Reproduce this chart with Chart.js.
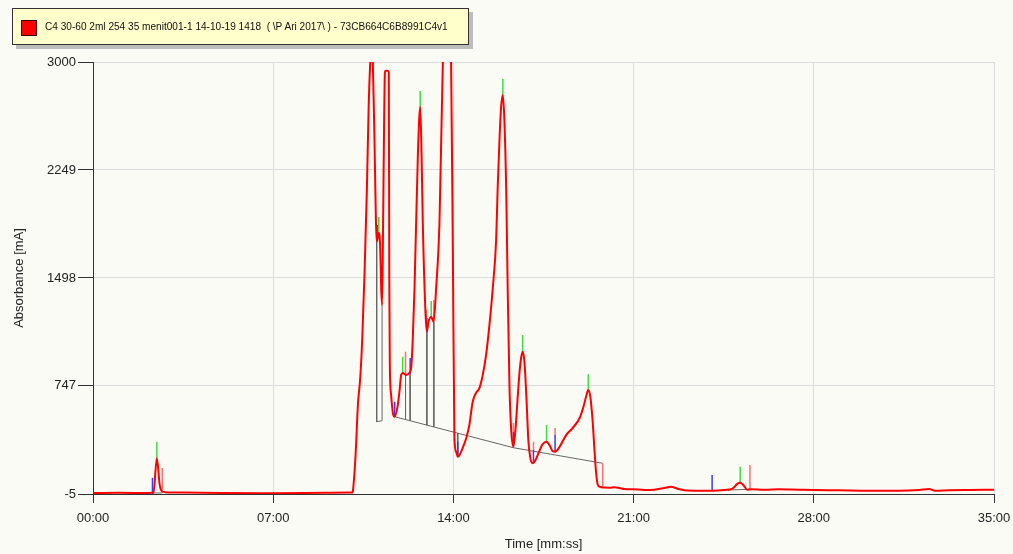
<!DOCTYPE html>
<html><head><meta charset="utf-8">
<script src="https://cdn.jsdelivr.net/npm/chart.js@4.4.0/dist/chart.umd.min.js"></script>
<style>
html,body{margin:0;padding:0;background:#fbfbf5;}
#wrap{position:relative;width:1013px;height:554px;overflow:hidden;}
#c{position:absolute;left:0;top:0;}
#legend{position:absolute;left:12px;top:8px;width:455px;height:35px;background:#ffffcc;border:1px solid #333;box-shadow:4px 4px 0 #bdbdbd;font-family:'Liberation Sans',Arial,sans-serif;font-size:10.1px;color:#111;}
#legend .sw{position:absolute;left:8px;top:11px;width:14px;height:14px;background:#ff0000;border:1px solid #400;}
#legend .tx{position:absolute;left:32px;top:11px;white-space:pre;line-height:13px;}
</style></head>
<body>
<div id="wrap">
<canvas id="c" width="1013" height="554"></canvas>
<div id="legend"><div class="sw"></div><div class="tx" id="legendText"></div></div>
</div>
<script>
// ---- data (time in minutes, absorbance in mA) ----
const seriesName = 'C4 30-60 2ml 254 35 menit001-1 14-10-19 1418  ( \\P Ari 2017\\ ) - 73CB664C6B8991C4v1';
const xTicks = [0, 7, 14, 21, 28, 35];
const yTicks = [-5, 747, 1498, 2249, 3000];

const curveTime = [0, 1, 2.2, 2.35, 2.48, 2.59, 2.67, 2.8, 3.5, 5, 7, 9, 9.96, 10.07,
  10.09, 10.2, 10.29, 10.38, 10.46, 10.55, 10.64, 10.71, 10.77, 10.82, 10.87, 10.93, 10.99,
  11.02, 11.1, 11.15, 11.2, 11.23, 11.27, 11.31, 11.34, 11.37, 11.44, 11.49, 11.51, 11.53, 11.58, 11.65,
  11.71, 11.84, 11.91, 11.97, 12.03, 12.17, 12.29, 12.36, 12.42, 12.49, 12.62, 12.71, 12.76, 12.81,
  12.92, 12.97, 13.03, 13.14, 13.23, 13.33, 13.46, 13.59, 13.75, 13.91, 13.98, 14.04, 14.11, 14.17,
  14.24, 14.36, 14.5, 14.62, 14.75, 14.88, 15.01, 15.14, 15.27, 15.4, 15.53, 15.66, 15.72, 15.79,
  15.85, 15.92, 15.98, 16.05, 16.11, 16.18, 16.25, 16.33, 16.41, 16.49, 16.56, 16.63, 16.69, 16.76,
  16.85, 16.91, 16.99, 17.08, 17.19, 17.34, 17.47, 17.62, 17.75, 17.85, 17.95, 18.12, 18.38, 18.63,
  18.9, 19.05, 19.17, 19.24, 19.32, 19.41, 19.48, 19.54, 19.6, 19.67, 19.86, 20.06, 20.25, 20.45,
  20.64, 20.99, 21.42, 21.8, 22.19, 22.45, 22.7, 22.97, 23.55, 24.05, 24.53, 24.84, 25.03, 25.14,
  25.26, 25.41, 25.57, 26.08, 26.66, 27.43, 28.0, 28.99, 30.15, 31.32, 32.09, 32.48, 32.71, 33.26,
  34.03, 35.0];
const curveAbs = [2, 3, 2, 5, 243, 60, 15, 8, 5, 2, 1, 4, 5, 5,
  11, 266, 614, 800, 1078, 1541, 2121, 2701, 3002, 3150, 3000, 2500, 1900,
  1750, 1810, 1740, 1400, 1310, 1900, 2600, 2930, 2940, 2940, 2930, 1500, 900, 684, 558,
  533, 614, 718, 823, 837, 823, 837, 872, 1066, 1428, 2353, 2689, 2388, 1889,
  1240, 1124, 1191, 1226, 1194, 1428, 1889, 3000, 3600, 3000, 1657, 385, 287, 254,
  266, 315, 385, 475, 637, 698, 732, 823, 962, 1171, 1428, 1762, 2124, 2457,
  2680, 2770, 2597, 2124, 1414, 732, 426, 324, 440, 649, 823, 941, 985, 913,
  614, 371, 245, 209, 232, 294, 343, 359, 329, 294, 289, 322, 405, 454,
  522, 600, 684, 718, 670, 498, 301, 150, 65, 46, 40, 39, 42, 37,
  30, 28, 23, 25, 37, 46, 32, 21, 18, 18, 23, 33, 65, 74,
  58, 25, 28, 25, 28, 25, 23, 21, 18, 18, 23, 30, 18, 21,
  23, 25];

// peak markers: [time, from, to]
const blueMarkers = [[2.31, -5, 108], [11.04, 1762, 1866], [11.72, 533, 637], [12.32, 823, 941],
  [12.97, 1115, 1219], [14.17, 254, 359], [16.33, 324, 428], [17.11, 209, 301], [17.95, 289, 405],
  [24.05, 18, 127]];
const greenMarkers = [[2.48, 245, 359], [11.10, 1797, 1922], [12.03, 837, 950], [12.71, 2689, 2798],
  [13.14, 1219, 1338], [15.92, 2770, 2882], [16.69, 985, 1101], [17.62, 359, 475], [19.24, 718, 828],
  [25.14, 74, 185]];
const redMarkers = [[2.69, 2, 176], [12.14, 823, 985], [12.95, 1219, 1275], [13.24, 1191, 1345],
  [16.33, 428, 489], [17.11, 301, 359], [17.95, 405, 454], [19.80, 44, 209], [25.52, 28, 197]];
// baseline / drop lines: [t1, v1, t2, v2]
const baselineSegments = [[2.31, 2, 2.69, 2], [11.02, 1750, 11.02, 498], [11.02, 498, 11.23, 505],
  [11.23, 505, 11.23, 1310], [11.71, 533, 16.33, 317], [16.33, 317, 19.80, 209],
  [12.14, 823, 12.14, 510], [12.32, 823, 12.32, 506], [12.97, 1115, 12.97, 474],
  [13.24, 1191, 13.24, 462], [14.17, 419, 14.17, 254], [24.05, 18, 25.52, 28]];

// ---- build ----
document.getElementById('legendText').textContent = seriesName;

function markerData(list) {
  const d = [];
  list.forEach(m => { d.push({x: m[0], y: m[1]}); d.push({x: m[0], y: m[2]}); d.push({x: m[0], y: null}); });
  return d;
}
function segData(list) {
  const d = [];
  list.forEach(s => { d.push({x: s[0], y: s[1]}); d.push({x: s[2], y: s[3]}); d.push({x: s[2], y: null}); });
  return d;
}
function fmtTime(v) {
  const m = Math.floor(v), s = Math.round((v - m) * 60);
  return String(m).padStart(2, '0') + ':' + String(s).padStart(2, '0');
}
const tickFont = {family: "'Liberation Sans', Arial, sans-serif", size: 13};

new Chart(document.getElementById('c'), {
  type: 'line',
  data: {
    datasets: [
      {label: seriesName, data: curveTime.map((t, i) => ({x: t, y: curveAbs[i]})),
        borderColor: '#ff0000', borderWidth: 2, pointRadius: 0, cubicInterpolationMode: 'monotone', order: 0},
      {label: 'apex', data: markerData(greenMarkers), borderColor: '#3fdc3f', borderWidth: 1.5, pointRadius: 0, spanGaps: false, order: 1},
      {label: 'start', data: markerData(blueMarkers), borderColor: '#3a3aff', borderWidth: 1.5, pointRadius: 0, spanGaps: false, order: 2},
      {label: 'end', data: markerData(redMarkers), borderColor: 'rgba(255,70,70,0.75)', borderWidth: 1.5, pointRadius: 0, spanGaps: false, order: 3},
      {label: 'baseline', data: segData(baselineSegments), borderColor: '#666666', borderWidth: 1, pointRadius: 0, spanGaps: false, order: 4}
    ]
  },
  options: {
    responsive: false, animation: false, devicePixelRatio: 1,
    layout: {padding: {top: 62, right: 19, bottom: 0, left: 0}},
    plugins: {legend: {display: false}, tooltip: {enabled: false}},
    scales: {
      x: {
        type: 'linear', min: 0, max: 35,
        afterBuildTicks: s => { s.ticks = xTicks.map(v => ({value: v})); },
        afterFit: s => { s.height = 60; s.paddingLeft = 0; s.paddingRight = 0; },
        ticks: {callback: v => fmtTime(v), font: tickFont, color: '#222', padding: 8, maxRotation: 0, autoSkip: false},
        grid: {color: '#dddddd', tickColor: '#333', tickLength: 9},
        border: {color: '#333'},
        title: {display: true, text: 'Time [mm:ss]', font: tickFont, color: '#222', padding: {top: 0, bottom: 2}}
      },
      y: {
        type: 'linear', min: -5, max: 3000,
        afterBuildTicks: s => { s.ticks = yTicks.map(v => ({value: v})); },
        afterFit: s => { s.width = 93; s.paddingTop = 0; s.paddingBottom = 0; },
        ticks: {callback: v => String(v), font: tickFont, color: '#222', padding: 2, autoSkip: false},
        grid: {color: '#dddddd', tickColor: '#333', tickLength: 15},
        border: {color: '#333'},
        title: {display: true, text: 'Absorbance [mA]', font: tickFont, color: '#222', padding: {top: 12, bottom: 0}}
      }
    }
  }
});
</script>
</body></html>
